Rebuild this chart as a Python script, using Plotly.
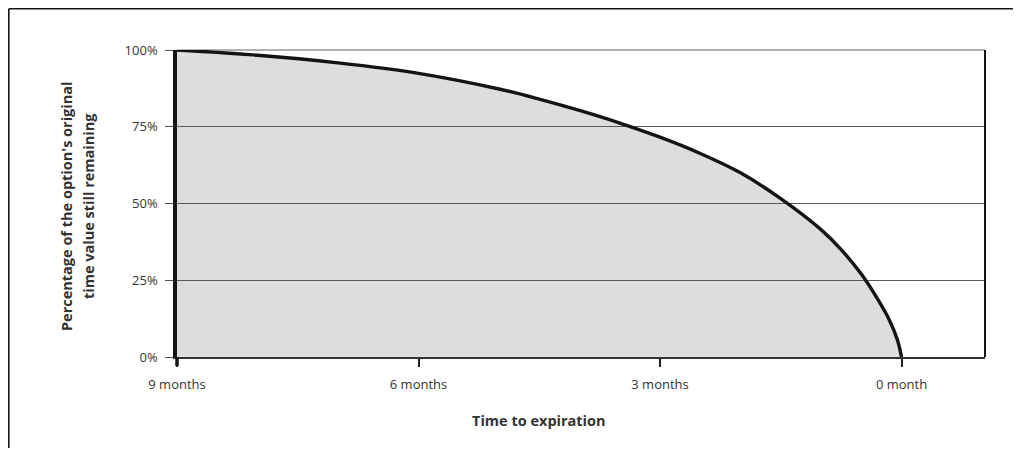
import plotly.graph_objects as go

# Time to expiration (months remaining) and % of original time value remaining
months_remaining = [9.0, 8.0, 7.0, 6.0, 5.0, 4.5, 4.0, 3.5, 3.0, 2.5, 2.0, 1.5, 1.0, 0.75, 0.5, 0.3, 0.15, 0.05, 0.0]
value_pct = [100, 98.3, 95.8, 92.4, 87.3, 84.0, 80.3, 76.2, 71.6, 66.3, 60.0, 51.6, 41.5, 35.0, 27.0, 19.0, 12.0, 5.5, 0.0]

x_tick_vals = [9, 6, 3, 0]
x_tick_text = ["9 months", "6 months", "3 months", "0 month"]
y_tick_vals = [0, 25, 50, 75, 100]
y_tick_text = ["0%", "25%", "50%", "75%", "100%"]

x_title = "Time to expiration"
y_title_lines = ["Percentage of the option's original", "time value still remaining"]

OFF = 8  # page body margin
W, H = 1021 - 2 * OFF, 456 - 2 * OFF   # figure fits the window exactly
PL, PT, PR, PB = 177, 50, 985, 357     # target plot-area box on screen
L, T = PL - OFF, PT - OFF
R, B = (W + OFF) - PR, (H + OFF) - PB
pw, ph = PR - PL, PB - PT

def sx(px):
    return (px - PL) / pw

def sy(py):
    return (PB - py) / ph

font_family = "Open Sans, Noto Sans, sans-serif"
text_color = "#333333"

fig = go.Figure()
fig.add_trace(go.Scatter(
    x=months_remaining, y=value_pct,
    mode="lines",
    line=dict(color="#141414", width=3.4, shape="spline", smoothing=1.0),
    fill="tozeroy", fillcolor="rgba(80,85,95,0.2)",
    hoverinfo="skip", showlegend=False,
))

fig.update_layout(
    width=W, height=H,
    margin=dict(l=L, r=R, t=T, b=B, pad=0),
    paper_bgcolor="white", plot_bgcolor="white",
    font=dict(family=font_family, size=13, color=text_color),
    xaxis=dict(
        range=[9, -1.037],
        tickvals=x_tick_vals, ticktext=x_tick_text,
        ticks="outside", ticklen=8, tickwidth=2, tickcolor="#222222",
        showline=True, linecolor="#333333", linewidth=1.5,
        showgrid=False, zeroline=False,
        ticklabelstandoff=7,
        tickfont=dict(size=13, color=text_color),
    ),
    yaxis=dict(
        range=[0, 100],
        tickvals=y_tick_vals, ticktext=y_tick_text,
        ticks="outside", ticklen=8, tickwidth=1, tickcolor="#555555",
        showline=True, linecolor="#141414", linewidth=3.5,
        showgrid=True, gridcolor="#5a5a5a", gridwidth=1,
        zeroline=False,
        ticklabelstandoff=5,
        tickfont=dict(size=13, color=text_color),
    ),
    shapes=[
        # light top line at 100%
        dict(type="line", xref="paper", yref="paper", x0=0, x1=1, y0=1, y1=1,
             line=dict(color="#9a9a9a", width=1.5), layer="below"),
        # right border of plot area
        dict(type="line", xref="paper", yref="paper", x0=1, x1=1, y0=0, y1=1,
             line=dict(color="#141414", width=2)),
        # thick tick under the 9-month axis line
        dict(type="line", xref="paper", yref="paper", x0=0, x1=0,
             y0=sy(366), y1=0,
             line=dict(color="#141414", width=3.5)),
        # outer frame: left and top edges
        dict(type="line", xref="paper", yref="paper",
             x0=sx(8.8), x1=sx(8.8), y0=sy(OFF + H), y1=sy(8.8),
             line=dict(color="#141414", width=1.6), layer="above"),
        dict(type="line", xref="paper", yref="paper",
             x0=sx(8.8), x1=sx(OFF + W), y0=sy(8.8), y1=sy(8.8),
             line=dict(color="#141414", width=1.6), layer="above"),
    ],
    annotations=[
        dict(text="<b>" + x_title + "</b>", xref="paper", yref="paper",
             x=sx(539), y=sy(420),
             showarrow=False, xanchor="center", yanchor="middle",
             font=dict(size=14.5, color=text_color, family=font_family)),
        dict(text="<b>" + y_title_lines[0] + "</b>", xref="paper", yref="paper",
             x=sx(66), y=sy(206),
             showarrow=False, xanchor="center", yanchor="middle",
             textangle=-90,
             font=dict(size=14.5, color=text_color, family=font_family)),
        dict(text="<b>" + y_title_lines[1] + "</b>", xref="paper", yref="paper",
             x=sx(88), y=sy(206),
             showarrow=False, xanchor="center", yanchor="middle",
             textangle=-90,
             font=dict(size=14.5, color=text_color, family=font_family)),
    ],
)

fig.write_html("out.html")
